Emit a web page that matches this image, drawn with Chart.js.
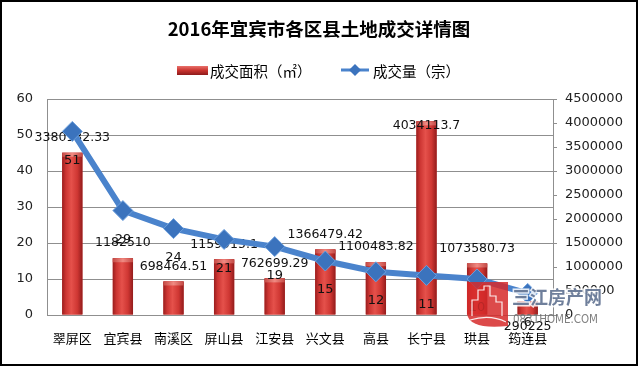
<!DOCTYPE html>
<html><head><meta charset="utf-8">
<script src="https://cdn.jsdelivr.net/npm/chart.js@4.4.1/dist/chart.umd.min.js"></script>
<style>html,body{margin:0;padding:0;background:#fff;}canvas{display:block;}</style>
</head><body>
<canvas id="c" width="640" height="367"></canvas>
<script>
const categories = ['翠屏区','宜宾县','南溪区','屏山县','江安县','兴文县','高县','长宁县','珙县','筠连县'];
const areaValues = [3380132.33, 1182510, 698464.51, 1159915.1, 762699.29, 1366479.42, 1100483.82, 4034113.7, 1073580.73, 290225];
const countValues = [51, 29, 24, 21, 19, 15, 12, 11, 10, 6];
const leftTicks = [0, 10, 20, 30, 40, 50, 60];
const rightTicks = [0, 500000, 1000000, 1500000, 2000000, 2500000, 3000000, 3500000, 4000000, 4500000];
const titleText = '2016年宜宾市各区县土地成交详情图';
const areaLabel = '成交面积（㎡）';
const countLabel = '成交量（宗）';

const CJK = "'Noto Sans CJK SC', 'DejaVu Sans', sans-serif";
const NUM = "'DejaVu Sans', sans-serif";
const GRID = '#8f8f8f';
const LINE = '#4a83cc';

function barGradient(ctx, l, r) {
  const g = ctx.createLinearGradient(l, 0, r, 0);
  g.addColorStop(0, '#9a1e1e');
  g.addColorStop(0.18, '#cc3532');
  g.addColorStop(0.45, '#e5514b');
  g.addColorStop(0.75, '#cf3733');
  g.addColorStop(1, '#931c1c');
  return g;
}

const decor = {
  id: 'decor',
  afterDatasetDraw(chart, args) {
    if (args.index !== 0) return;
    const ctx = chart.ctx, ca = chart.chartArea;
    const meta = chart.getDatasetMeta(0);
    ctx.save();
    meta.data.forEach((el) => {
      const l = el.x - el.width / 2, r = el.x + el.width / 2;
      const h = el.base - el.y;
      ctx.fillStyle = barGradient(ctx, l, r);
      ctx.fillRect(l, el.y, el.width, h);
      const cap = Math.min(4, h);
      const g2 = ctx.createLinearGradient(l, 0, r, 0);
      g2.addColorStop(0, '#c44a45'); g2.addColorStop(0.5, '#f08a82'); g2.addColorStop(1, '#c44a45');
      ctx.fillStyle = g2;
      ctx.fillRect(l, el.y, el.width, cap);
    });
    ctx.font = '12.5px ' + NUM;
    ctx.fillStyle = '#111';
    ctx.textAlign = 'center';
    ctx.textBaseline = 'middle';
    const vals = chart.data.datasets[0].data;
    meta.data.forEach((el, i) => {
      let y = el.y - 15;
      if (el.base - el.y < 20) y = ca.bottom + 12;
      y = Math.max(y, ca.top + 27);
      ctx.fillText(String(vals[i]), el.x, y);
    });
    ctx.restore();
  },
  afterDatasetsDraw(chart) {
    const ctx = chart.ctx;
    const meta = chart.getDatasetMeta(1);
    const vals = chart.data.datasets[1].data;
    ctx.save();
    ctx.font = '13px ' + NUM;
    ctx.fillStyle = '#111';
    ctx.textAlign = 'center';
    ctx.textBaseline = 'middle';
    meta.data.forEach((el, i) => ctx.fillText(String(vals[i]), el.x, el.y + 29));
    ctx.restore();
  },
  afterDraw(chart) {
    const ctx = chart.ctx;
    ctx.save();
    // title
    ctx.fillStyle = '#000';
    ctx.font = 'bold 18.5px ' + CJK;
    ctx.textAlign = 'center';
    ctx.textBaseline = 'middle';
    ctx.fillText(titleText, 319, 29);
    // legend
    const ly = 70;
    const g = ctx.createLinearGradient(0, ly - 4, 0, ly + 5);
    g.addColorStop(0, '#e9716b'); g.addColorStop(0.5, '#c8332f'); g.addColorStop(1, '#8e1b1b');
    ctx.fillStyle = g;
    ctx.fillRect(177, ly - 4, 31, 9);
    ctx.font = '14.5px ' + CJK;
    ctx.fillStyle = '#000';
    ctx.textAlign = 'left';
    ctx.fillText(areaLabel, 210, ly + 1);
    ctx.strokeStyle = LINE; ctx.lineWidth = 3;
    ctx.beginPath(); ctx.moveTo(341, ly); ctx.lineTo(369, ly); ctx.stroke();
    ctx.fillStyle = '#3b73bd';
    ctx.beginPath(); ctx.moveTo(355, ly - 6); ctx.lineTo(361, ly); ctx.lineTo(355, ly + 6); ctx.lineTo(349, ly); ctx.closePath(); ctx.fill();
    ctx.fillStyle = '#000';
    ctx.fillText(countLabel, 373, ly + 1);
    // watermark
    ctx.globalAlpha = 0.85;
    ctx.fillStyle = '#d62a2a';
    ctx.fillRect(467, 282, 41, 32);
    ctx.beginPath();
    ctx.moveTo(467, 314); ctx.quadraticCurveTo(470, 330, 508, 326); ctx.lineTo(508, 314); ctx.closePath(); ctx.fill();
    ctx.globalAlpha = 0.9;
    ctx.strokeStyle = '#ffffff'; ctx.lineWidth = 1.2;
    ctx.beginPath();
    ctx.moveTo(472, 316); ctx.lineTo(472, 300); ctx.lineTo(478, 300); ctx.lineTo(478, 290); ctx.lineTo(484, 290);
    ctx.lineTo(484, 286); ctx.lineTo(490, 286); ctx.lineTo(490, 296); ctx.lineTo(496, 296); ctx.lineTo(496, 302); ctx.lineTo(502, 302); ctx.lineTo(502, 316);
    ctx.stroke();
    ctx.beginPath(); ctx.moveTo(470, 320); ctx.quadraticCurveTo(490, 314, 506, 322); ctx.stroke();
    ctx.globalAlpha = 0.85;
    ctx.font = 'bold 18px ' + CJK;
    ctx.textAlign = 'left';
    ctx.lineWidth = 3; ctx.strokeStyle = '#ffffff';
    ctx.strokeText('三江房产网', 512, 297);
    ctx.fillStyle = '#56698a';
    ctx.fillText('三江房产网', 512, 297);
    ctx.font = '12px ' + NUM;
    ctx.fillStyle = '#6a6a6a';
    ctx.fillText('0831HOME.COM', 513, 320, 85);
    ctx.globalAlpha = 1;
    // frame
    ctx.strokeStyle = '#000'; ctx.lineWidth = 2;
    ctx.strokeRect(1, 1, 636, 364);
    ctx.restore();
  }
};

new Chart(document.getElementById('c'), {
  type: 'bar',
  data: {
    labels: categories,
    datasets: [
      { type: 'bar', label: areaLabel, data: areaValues, yAxisID: 'y1', backgroundColor: '#c83431', borderWidth: 0, barPercentage: 0.4, categoryPercentage: 1, order: 1 },
      { type: 'line', label: countLabel, data: countValues, yAxisID: 'y', borderColor: LINE, borderWidth: 6, pointStyle: 'rectRot', pointRadius: 10, pointBackgroundColor: '#3b73bd', pointBorderColor: '#6d9fdc', pointBorderWidth: 1, tension: 0, order: 0 }
    ]
  },
  options: {
    responsive: false, animation: false, devicePixelRatio: 1,
    layout: { padding: { top: 99, bottom: 12, left: 0, right: 0 } },
    plugins: { legend: { display: false }, title: { display: false }, tooltip: { enabled: false } },
    scales: {
      x: {
        offset: true,
        grid: { display: true, drawOnChartArea: false, drawTicks: false, color: GRID },
        border: { display: true, color: GRID },
        ticks: { font: { size: 13, family: CJK }, color: '#000', padding: 15, maxRotation: 0, autoSkip: false },
        afterFit: s => { s.height = 40; }
      },
      y: {
        position: 'left', min: 0, max: 60,
        afterBuildTicks: s => { s.ticks = leftTicks.map(v => ({ value: v })); },
        grid: { color: GRID, drawTicks: false },
        border: { display: true, color: GRID },
        ticks: { font: { size: 13, family: NUM }, color: '#222', padding: 14 },
        afterFit: s => { s.width = 47; }
      },
      y1: {
        position: 'right', min: 0, max: 4500000,
        afterBuildTicks: s => { s.ticks = rightTicks.map(v => ({ value: v })); },
        grid: { drawOnChartArea: false, drawTicks: true, tickLength: 4, color: GRID },
        border: { display: true, color: GRID },
        ticks: { font: { size: 13, family: NUM }, color: '#222', padding: 8, callback: v => String(v) },
        afterFit: s => { s.width = 87; }
      }
    }
  },
  plugins: [decor]
});
</script>
</body></html>
